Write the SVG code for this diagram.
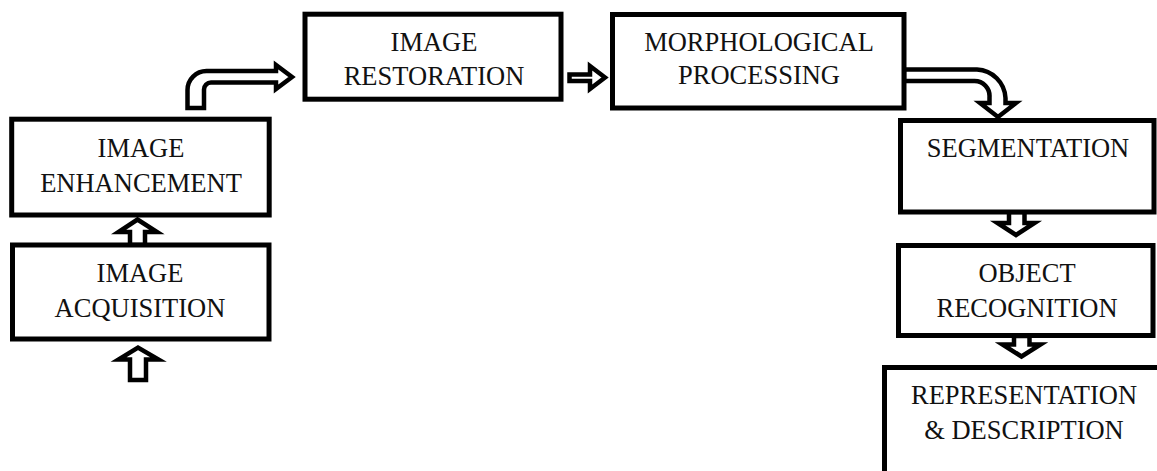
<svg xmlns="http://www.w3.org/2000/svg" width="1157" height="471" viewBox="0 0 1157 471">
<style>
.box{fill:#fff;stroke:#000;stroke-width:5}
.arr{fill:#fff;stroke:#000;stroke-width:4.5;stroke-linejoin:miter}
.t{font-family:"Liberation Serif","Times New Roman",serif;font-size:26.5px;fill:#111;text-anchor:middle}
</style>
<rect width="1157" height="471" fill="#fff"/>
<g id="connectors">
<path class="arr" d="M187.5 108 V90 A19 19 0 0 1 206.5 71 H276 V65 L292 77 L276 89 V82.5 H211 A7 7 0 0 0 204 89.5 V108 Z"/>
<path class="arr" d="M569.5 74.5 H590 V66 L605 77.5 L590 89 V81 H569.5 Z"/>
<path class="arr" d="M904 69.5 H977 A30 30 0 0 1 1005.5 98 V103 H1016 L998 117 L980 103 H989.5 V97 A15 15 0 0 0 974.5 81 H904 Z"/>
<path class="arr" d="M130 245 V232 H118.5 L137.5 219.5 L157 232 H145 V245 Z"/>
<path class="arr" d="M130 380 V359.5 H118.5 L138 347.5 L158.5 359.5 H146 V380 Z"/>
<path class="arr" d="M1009 212 V223 H997.5 L1016 235 L1034.5 223 H1024.5 V212 Z"/>
<path class="arr" d="M1014 336 V344.5 H1002.5 L1021.5 356.5 L1040.5 344.5 H1029.5 V336 Z"/>
</g>
<g id="enhancement">
<rect class="box" x="11.7" y="119.2" width="257.5" height="95.8"/>
<text class="t" x="141" y="157">IMAGE</text>
<text class="t" x="141" y="191.7">ENHANCEMENT</text>
</g>
<g id="acquisition">
<rect class="box" x="12.5" y="245" width="256.5" height="94"/>
<text class="t" x="140" y="281.7">IMAGE</text>
<text class="t" x="140" y="316.7">ACQUISITION</text>
</g>
<g id="restoration">
<rect class="box" x="305" y="14.2" width="256" height="85"/>
<text class="t" x="434" y="51">IMAGE</text>
<text class="t" x="434" y="84.5">RESTORATION</text>
</g>
<g id="morphological">
<rect class="box" x="612.5" y="14.5" width="291.5" height="93.5"/>
<text class="t" x="759" y="50.5">MORPHOLOGICAL</text>
<text class="t" x="759" y="84">PROCESSING</text>
</g>
<g id="segmentation">
<rect class="box" x="900.5" y="120.5" width="253.5" height="91.5"/>
<text class="t" x="1028" y="156.7">SEGMENTATION</text>
</g>
<g id="object">
<rect class="box" x="898.5" y="245.5" width="254.5" height="90"/>
<text class="t" x="1027" y="281.7">OBJECT</text>
<text class="t" x="1027" y="316.7">RECOGNITION</text>
</g>
<g id="representation">
<rect class="box" x="884.5" y="367.5" width="290" height="120"/>
<text class="t" x="1024" y="404">REPRESENTATION</text>
<text class="t" x="1024" y="439">&amp; DESCRIPTION</text>
</g>
</svg>
